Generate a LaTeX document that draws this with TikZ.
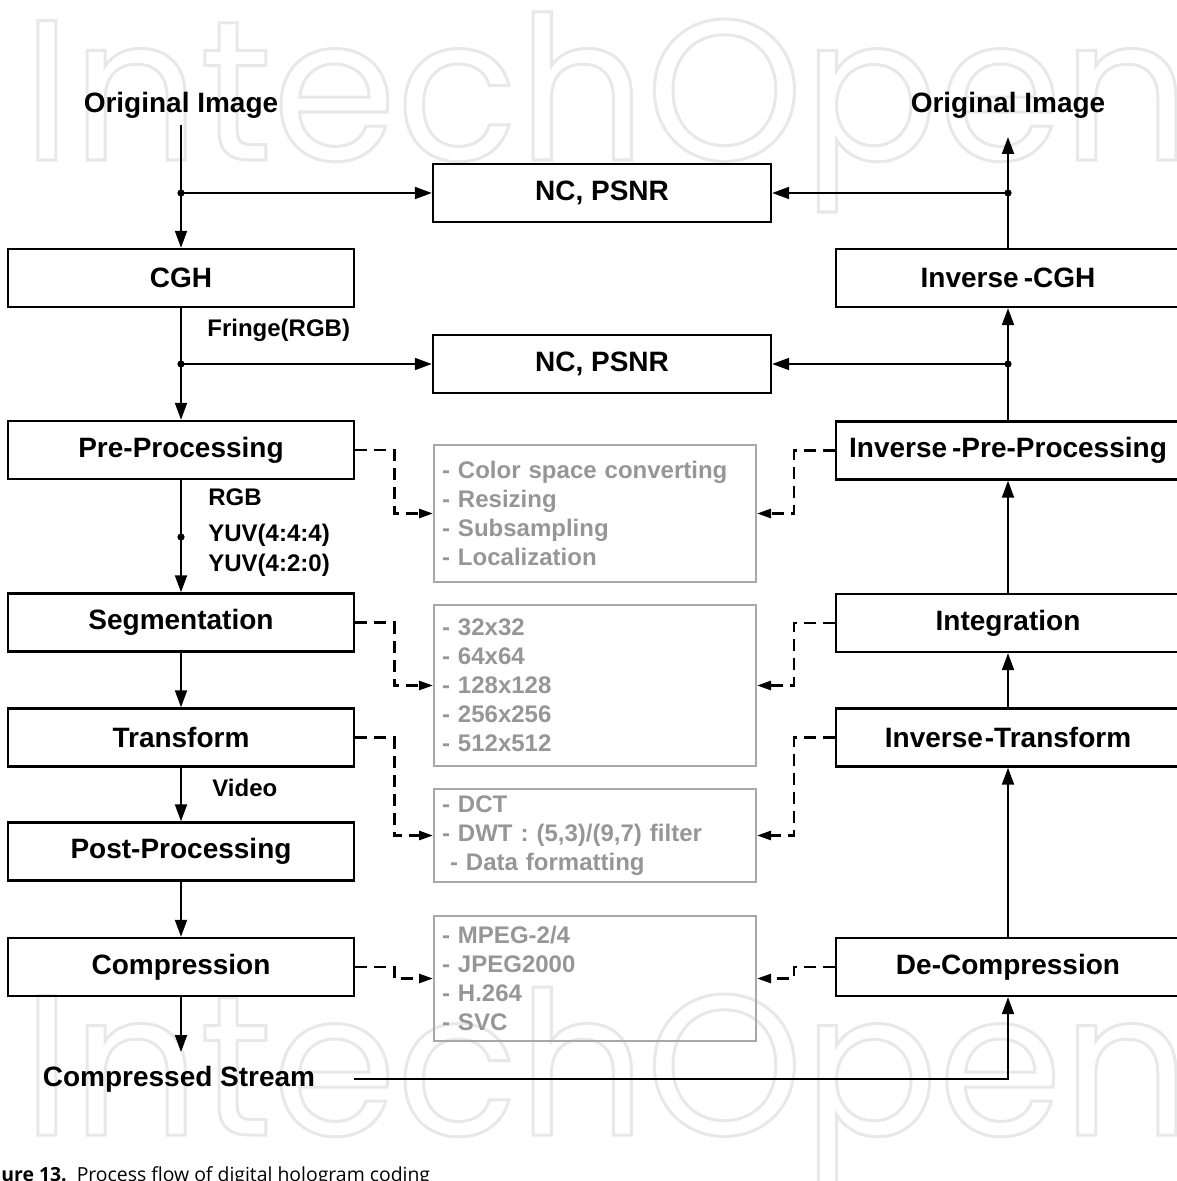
\documentclass[tikz,border=0pt]{standalone}
\usepackage{fontspec}
\setmainfont{Liberation Sans}
\newfontfamily\capfont{Open Sans}
\newfontfamily\wmfont{Poppins}
\usetikzlibrary{arrows.meta,calc}
\definecolor{boxgray}{RGB}{168,168,168}
\definecolor{txtgray}{RGB}{150,150,150}
\definecolor{wmgray}{RGB}{232,232,232}
\newcommand\outlinetext[1]{\special{pdf:literal direct 1.5 w 1 Tr}#1\special{pdf:literal direct 0 Tr}}
\begin{document}
\begin{tikzpicture}[x=0.5pt,y=-0.5pt,
  box/.style={draw, line width=1.2pt, minimum width=173pt, minimum height=29pt, inner sep=0pt, font=\bfseries\fontsize{14}{16}\selectfont},
  rbox/.style={box, minimum width=172pt},
  ncbox/.style={box, minimum width=169pt},
  gbox/.style={draw=boxgray, line width=1pt, text=txtgray, align=left, text width=153pt, inner xsep=4pt, inner ysep=0pt, font=\bfseries\fontsize{12}{14.5}\selectfont},
  lbl/.style={font=\bfseries\fontsize{14}{16}\selectfont},
  slbl/.style={font=\bfseries\fontsize{12}{14}\selectfont, inner sep=0pt, anchor=west},
  arr/.style={line width=1pt, -{Triangle[length=8.5pt,width=6pt]}},
  darr/.style={line width=1.3pt, dash pattern=on 6pt off 3.5pt, -{Triangle[length=7pt,width=4.5pt]}},
  dot/.style={fill, circle, inner sep=0pt, minimum size=3.6pt},
  wm/.style={anchor=base west, inner sep=0pt, text=wmgray, font=\wmfont\fontsize{100}{100}\selectfont}
]
\useasboundingbox (0,0) rectangle (1176,1181);

% watermark
\node[wm] (wm1) at (22,160) {\outlinetext{IntechOpen}};
\node[wm] (wm2) at (22,1135) {\outlinetext{IntechOpen}};

% caption
\node[anchor=base west, inner sep=0pt, font=\capfont\fontsize{9.7}{11}\selectfont] (cap) at (1,1181) {\textbf{ure 13.}\hspace{5pt}Process flow of digital hologram coding};

% left column
\node[lbl] (oi1) at (181,105) {Original Image};
\node[box] (cgh) at (181,278) {CGH};
\node[box] (pre) at (181,450) {Pre-Processing};
\node[box] (seg) at (181,622.5) {Segmentation};
\node[box] (tr) at (181,737.5) {Transform};
\node[box] (post) at (181,851.5) {Post-Processing};
\node[box] (comp) at (181,967) {Compression};
\node[lbl] (cs) at (179,1079) {Compressed Stream};

% right column
\node[lbl] (oi2) at (1008,105) {Original Image};
\node[rbox] (icgh) at (1008,278) {Inverse\hspace{2.5pt}-CGH};
\node[rbox] (ipre) at (1008,450.5) {Inverse\hspace{2.5pt}-Pre-Processing};
\node[rbox] (integ) at (1008,623) {Integration};
\node[rbox] (itr) at (1008,737.5) {Inverse\hspace{1pt}-Transform};
\node[rbox] (dec) at (1008,967) {De-Compression};

% middle
\node[ncbox] (nc1) at (602,193) {NC, PSNR};
\node[ncbox] (nc2) at (602,364) {NC, PSNR};
\node[gbox, minimum height=68.5pt] (g1) at (595,513.5) {- Color space converting\\- Resizing\\- Subsampling\\- Localization};
\node[gbox, minimum height=80.5pt] (g2) at (595,685.5) {- 32x32\\- 64x64\\- 128x128\\- 256x256\\- 512x512};
\node[gbox, minimum height=46.5pt] (g3) at (595,835.5) {- DCT\\- DWT : (5,3)/(9,7) filter\\\hspace*{4pt}- Data formatting};
\node[gbox, minimum height=62.5pt] (g4) at (595,978.5) {- MPEG-2/4\\- JPEG2000\\- H.264\\- SVC};

% small labels
\node[slbl] (fr) at (207,330) {Fringe(RGB)};
\node[slbl] (rgb) at (208,497) {RGB};
\node[slbl] (yuv1) at (208,535) {YUV(4:4:4)};
\node[slbl] (yuv2) at (208,565) {YUV(4:2:0)};
\node[slbl] (vid) at (212,788) {Video};

% left flow
\coordinate (j1) at (181,193);
\coordinate (j2) at (181,364);
\coordinate (j3) at (181,537);
\coordinate (csin) at (181,1052);
\draw[arr, shorten <=10pt] (oi1.center) -- (cgh.north);
\draw[arr] (j1) -- (nc1.west);
\draw[arr] (cgh.south) -- (pre.north);
\draw[arr] (j2) -- (nc2.west);
\draw[arr] (pre.south) -- (seg.north);
\draw[arr] (seg.south) -- (tr.north);
\draw[arr] (tr.south) -- (post.north);
\draw[arr] (post.south) -- (comp.north);
\draw[arr] (comp.south) -- (csin);
\draw[arr] ([xshift=16pt]cs.east) -| (dec.south);
\node[dot] at (j1) {};
\node[dot] at (j2) {};
\node[dot] at (j3) {};

% right flow
\coordinate (j4) at (1008,364);
\coordinate (j5) at (1008,193);
\draw[arr] (dec.north) -- (itr.south);
\draw[arr] (itr.north) -- (integ.south);
\draw[arr] (integ.north) -- (ipre.south);
\draw[arr] (ipre.north) -- (icgh.south);
\draw[arr] (j4) -- (nc2.east);
\draw[arr, shorten >=16pt] (icgh.north) -- (oi2.center);
\draw[arr] (j5) -- (nc1.east);
\node[dot] at (j4) {};
\node[dot] at (j5) {};

% dashed links
\draw[darr] (pre.east) -- ++(39,0) |- (g1.west);
\draw[darr] (seg.east) -- ++(39,0) |- (g2.west);
\draw[darr] (tr.east) -- ++(39,0) |- (g3.west);
\draw[darr] (comp.east) -- ++(39,0) |- (g4.west);
\draw[darr] (ipre.west) -- ++(-41,0) |- (g1.east);
\draw[darr] (integ.west) -- ++(-41,0) |- (g2.east);
\draw[darr] (itr.west) -- ++(-41,0) |- (g3.east);
\draw[darr] (dec.west) -- ++(-41,0) |- (g4.east);
\end{tikzpicture}
\end{document}
